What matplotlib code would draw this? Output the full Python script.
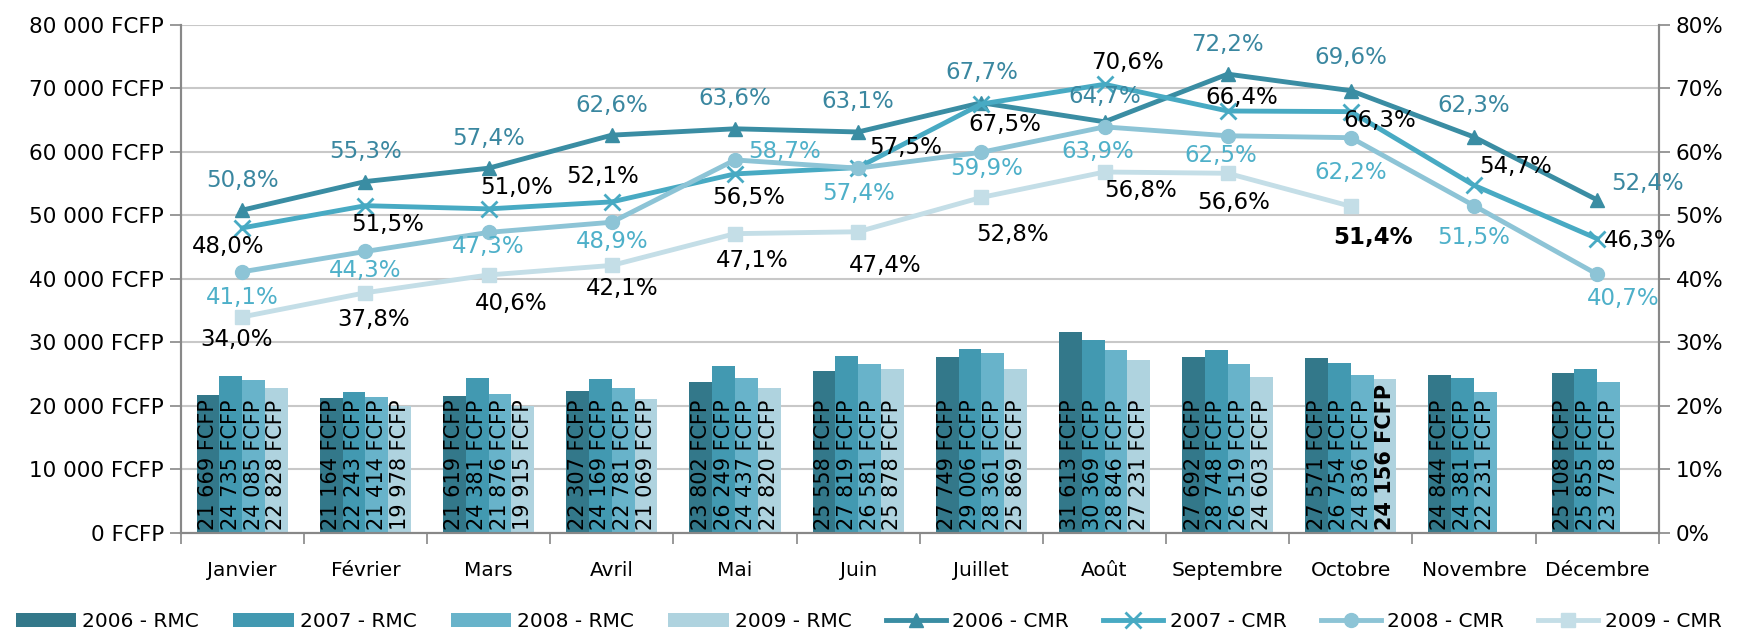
import matplotlib.pyplot as plt
import numpy as np

# Data
months = ['Janvier', 'Février', 'Mars', 'Avril', 'Mai', 'Juin', 'Juillet',
          'Août', 'Septembre', 'Octobre', 'Novembre', 'Décembre']
rmc_2006 = [21669, 21164, 21619, 22307, 23802, 25558, 27749, 31613, 27692, 27571, 24844, 25108]
rmc_2007 = [24735, 22243, 24381, 24169, 26249, 27819, 29006, 30369, 28748, 26754, 24381, 25855]
rmc_2008 = [24085, 21414, 21876, 22781, 24437, 26581, 28361, 28846, 26519, 24836, 22231, 23778]
rmc_2009 = [22828, 19978, 19915, 21069, 22820, 25878, 25869, 27231, 24603, 24156, None, None]
cmr_2006 = [50.8, 55.3, 57.4, 62.6, 63.6, 63.1, 67.7, 64.7, 72.2, 69.6, 62.3, 52.4]
cmr_2007 = [48.0, 51.5, 51.0, 52.1, 56.5, 57.5, 67.5, 70.6, 66.4, 66.3, 54.7, 46.3]
cmr_2008 = [41.1, 44.3, 47.3, 48.9, 58.7, 57.4, 59.9, 63.9, 62.5, 62.2, 51.5, 40.7]
cmr_2009 = [34.0, 37.8, 40.6, 42.1, 47.1, 47.4, 52.8, 56.8, 56.6, 51.4, None, None]

# label offsets (px right, px down) for the line labels
off_2006 = [(0, -27)] * 7 + [(0, -23), (0, -27), (0, -30), (0, -28), (45, -15)]
off_2007 = [(-13, 17), (20, 17), (25, -19), (-8, -23), (12, 21), (43, -18),
            (21, 18), (21, -20), (13, -12), (26, 8), (37, -17), (39, 2)]
off_2008 = [(0, 23), (0, 17), (0, 13), (0, 17), (45, -8), (0, 23),
            (5, 15), (-6, 22), (-6, 18), (0, 31), (0, 29), (23, 22)]
off_2009 = [(-5, 20), (7, 24), (20, 26), (9, 21), (16, 24), (24, 30),
            (28, 33), (32, 17), (5, 26), (20, 28), (0, 0), (0, 0)]

bar_colors = ['#33788A', '#4299B1', '#68B3CA', '#AFD3DF']
line_colors = ['#3A8DA3', '#48AAC3', '#8DC4D6', '#C4DEE7']
lbl_colors = ['#3A87A0', 'black', '#4EB0C9', 'black']

plt.rcParams['font.family'] = ['DejaVu Sans']

fig = plt.figure(figsize=(17.37, 6.3), dpi=100)
ax = fig.add_axes([0.104, 0.154, 0.851, 0.807])
ax2 = ax.twinx()

x = np.arange(len(months))
w = 0.185
bar_series = [rmc_2006, rmc_2007, rmc_2008, rmc_2009]
bar_names = ['2006 - RMC', '2007 - RMC', '2008 - RMC', '2009 - RMC']
handles = []
for k, vals in enumerate(bar_series):
    xs = [x[i] + (k - 1.5) * w for i in range(12) if vals[i] is not None]
    vs = [v for v in vals if v is not None]
    b = ax.bar(xs, vs, width=w, color=bar_colors[k], label=bar_names[k], zorder=2)
    handles.append(b)
    for xi, v in zip(xs, vs):
        s = f'{v:,}'.replace(',', ' ') + ' FCFP'
        bold = (k == 3 and v == 24156)
        ax.text(xi, 500, s, rotation=90, ha='center', va='bottom', fontsize=15,
                fontweight='bold' if bold else 'normal', zorder=3)

line_series = [cmr_2006, cmr_2007, cmr_2008, cmr_2009]
line_names = ['2006 - CMR', '2007 - CMR', '2008 - CMR', '2009 - CMR']
markers = ['^', 'x', 'o', 's']
offsets = [off_2006, off_2007, off_2008, off_2009]
for k, vals in enumerate(line_series):
    xs = [x[i] for i in range(12) if vals[i] is not None]
    vs = [v for v in vals if v is not None]
    ln, = ax2.plot(xs, vs, color=line_colors[k], lw=3.5, marker=markers[k],
                   markersize=10 if markers[k] != 'x' else 12, mew=2 if markers[k] == 'x' else 1,
                   label=line_names[k], zorder=4)
    handles.append(ln)
    for i, (xi, v) in enumerate(zip(xs, vs)):
        dx, dy = offsets[k][i]
        bold = (k == 3 and i == 9)
        ax2.annotate(f'{v:.1f}%'.replace('.', ','), (xi, v),
                     xytext=(dx * 0.8, -dy * 0.8), textcoords='offset points',
                     ha='center', va='center', fontsize=16.5, color=lbl_colors[k],
                     fontweight='bold' if bold else 'normal', zorder=5)

ax.set_xlim(-0.5, 11.5)
ax.set_ylim(0, 80000)
ax2.set_ylim(0, 80)
ax.set_yticks(np.arange(0, 80001, 10000))
ax.set_yticklabels([f'{v:,}'.replace(',', ' ') + ' FCFP' if v else '0 FCFP'
                    for v in range(0, 80001, 10000)])
ax2.set_yticks(np.arange(0, 81, 10))
ax2.set_yticklabels([f'{v}%' for v in range(0, 81, 10)])

ax.set_xticks(np.arange(-0.5, 12, 1))
ax.set_xticklabels([])
ax.set_xticks(x, minor=True)
ax.set_xticklabels(months, minor=True)
ax.tick_params(axis='x', which='major', length=8, color='#888888', width=1.2)
ax.tick_params(axis='x', which='minor', length=0, pad=20, labelsize=14.5)
ax.tick_params(axis='y', length=8, color='#888888', width=1.2, labelsize=15.5, pad=4)
ax2.tick_params(axis='y', length=8, color='#888888', width=1.2, labelsize=15.5, pad=4)

ax.grid(axis='y', color='#C8C8C8', lw=1.5, zorder=0)
ax.set_axisbelow(True)
for a in (ax, ax2):
    a.spines['top'].set_visible(False)
    for s in ('left', 'right', 'bottom'):
        a.spines[s].set_color('#888888')
        a.spines[s].set_linewidth(1.5)

fig.legend(handles=handles, loc='lower center', bbox_to_anchor=(0.5, -0.03), ncol=8,
           frameon=False, fontsize=14.5, handlelength=3.0, handletextpad=0.3,
           columnspacing=1.7)

fig.savefig('out.png', dpi=100)
